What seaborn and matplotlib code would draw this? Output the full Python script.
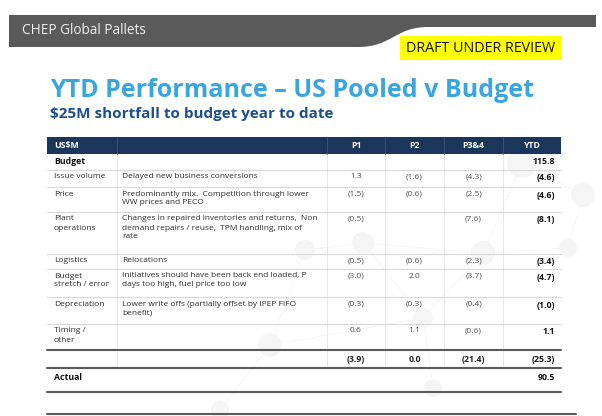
import numpy as np
import matplotlib.pyplot as plt
import seaborn as sns
from matplotlib.patches import PathPatch, Rectangle, Circle
from matplotlib.path import Path

# table data
columns = ["P1", "P2", "P3&4", "YTD"]
drivers = ["Issue volume", "Price", "Plant\noperations", "Logistics",
           "Budget\nstretch / error", "Depreciation", "Timing /\nother"]
comments = ["Delayed new business conversions",
            "Predominantly mix.  Competition through lower\nWW prices and PECO",
            "Changes in repaired inventories and returns,  Non\ndemand repairs / reuse,  TPM handling, mix of\nrate",
            "Relocations",
            "Initiatives should have been back end loaded, P\ndays too high, fuel price too low",
            "Lower write offs (partially offset by IPEP FIFO\nbenefit)",
            ""]
p1 = [1.3, -1.5, -0.5, -0.5, -3.0, -0.3, 0.6]
p2 = [-1.6, -0.6, np.nan, -0.6, 2.0, -0.3, 1.1]
p34 = [-4.3, -2.5, -7.6, -2.3, -3.7, -0.4, -0.6]
ytd = [-4.6, -4.6, -8.1, -3.4, -4.7, -1.0, 1.1]
totals = [-3.9, 0.0, -21.4, -25.3]
budget = 115.8
actual = 90.5


def fmt(v):
    if v is None or np.isnan(v):
        return ""
    return "(%.1f)" % abs(v) if v < 0 else "%.1f" % v


sns.set_theme(style="white")
plt.rcParams['font.family'] = ['Open Sans', 'DejaVu Sans']

fig = plt.figure(figsize=(6.02, 4.16), dpi=100)
ax = fig.add_axes([0, 0, 1, 1])
ax.set_xlim(0, 602)
ax.set_ylim(416, 0)
ax.axis('off')

# faint network pattern in the background
nodes = [(522, 163, 15), (583, 195, 12), (568, 248, 9), (483, 253, 12), (363, 243, 11),
         (305, 250, 10), (423, 318, 10), (433, 388, 9), (270, 345, 12), (220, 410, 9)]
links = [(0, 1), (1, 2), (2, 3), (3, 4), (4, 5), (3, 6), (6, 7), (4, 6), (5, 8), (8, 9), (6, 8), (0, 3)]
for a, b in links:
    ax.plot([nodes[a][0], nodes[b][0]], [nodes[a][1], nodes[b][1]], color='#f4f4f4', lw=0.6, zorder=0)
for x, y, r in nodes:
    ax.add_patch(Circle((x, y), r, facecolor='#f5f5f5', edgecolor='none', zorder=0))

# banner
verts = [(9, 15), (596, 15), (596, 27), (428, 27), (395, 27), (392, 47), (358, 47), (9, 47), (9, 15)]
codes = [Path.MOVETO, Path.LINETO, Path.LINETO, Path.LINETO, Path.CURVE4, Path.CURVE4, Path.CURVE4,
         Path.LINETO, Path.CLOSEPOLY]
ax.add_patch(PathPatch(Path(verts, codes), facecolor='#5a5a5a', edgecolor='none'))
ax.text(22, 31, "CHEP Global Pallets", color='#f0f0f0', fontsize=9.8, va='center')

ax.add_patch(Rectangle((400, 36), 162, 24, facecolor='#ffff00', edgecolor='none'))
ax.text(481, 48.5, "DRAFT UNDER REVIEW", color='#111111', fontsize=10.3, va='center', ha='center')

ax.text(50, 97, "YTD Performance \u2013 US Pooled v Budget", color='#3aa5df', fontsize=18,
        fontweight='bold', va='baseline')
ax.text(50, 118, "$25M shortfall to budget year to date", color='#1e4f8e', fontsize=11,
        fontweight='bold', va='baseline')

# table geometry
col_x = [47, 117, 327, 385, 444, 503, 561]
mids = [(col_x[i] + col_x[i + 1]) / 2 for i in range(2, 6)]
fs = 6.0

ax.add_patch(Rectangle((47, 137), 514, 17, facecolor='#1b365b', edgecolor='none'))
for x in col_x[1:-1]:
    ax.plot([x, x], [137, 154], color='#3b5679', lw=0.6)
ax.text(54, 145.5, "US$M", color='white', fontsize=6.3, fontweight='bold', va='center')
for m, c in zip(mids, columns):
    ax.text(m, 145.5, c, color='white', fontsize=6.3, fontweight='bold', va='center', ha='center')

# body rows
row_h = [17, 25, 42, 15, 28, 27, 26]
tops = [170]
for h in row_h:
    tops.append(tops[-1] + h)

for x in col_x[1:-1]:
    ax.plot([x, x], [154, 368], color='#e4e4e4', lw=0.6, zorder=1)
for y in [170] + tops[1:-1]:
    ax.plot([47, 561], [y, y], color='#d9d9d9', lw=0.8)

ax.text(54, 162, "Budget", color='#111111', fontsize=6.3, fontweight='bold', va='center')
ax.text(555, 162, fmt(budget), color='#111111', fontsize=6.3, fontweight='bold', va='center', ha='right')

for i in range(len(drivers)):
    y = tops[i] + 3.5
    ax.text(54, y, drivers[i], color='#2e2e2e', fontsize=fs, va='top', linespacing=1.4)
    ax.text(122, y, comments[i], color='#2e2e2e', fontsize=fs, va='top', linespacing=1.4)
    for m, v in zip(mids[:3], [p1[i], p2[i], p34[i]]):
        ax.text(m, y, fmt(v), color='#505050', fontsize=fs, va='top', ha='center')
    ax.text(555, y, fmt(ytd[i]), color='#111111', fontsize=6.3, fontweight='bold', va='top', ha='right')

# totals and actual
for m, v in zip(mids[:3], totals[:3]):
    ax.text(m, 359, fmt(v), color='#222222', fontsize=6.3, fontweight='bold', va='center', ha='center')
ax.text(555, 359, fmt(totals[3]), color='#111111', fontsize=6.3, fontweight='bold', va='center', ha='right')
ax.text(54, 378, "Actual", color='#111111', fontsize=6.3, fontweight='bold', va='center')
ax.text(555, 378, fmt(actual), color='#111111', fontsize=6.3, fontweight='bold', va='center', ha='right')

for y in [350, 368, 392]:
    ax.plot([47, 561], [y, y], color='#5a5a5a', lw=1.5)
ax.plot([47, 576], [414, 414], color='#5a5a5a', lw=1.5)

fig.savefig('out.png', dpi=100)
